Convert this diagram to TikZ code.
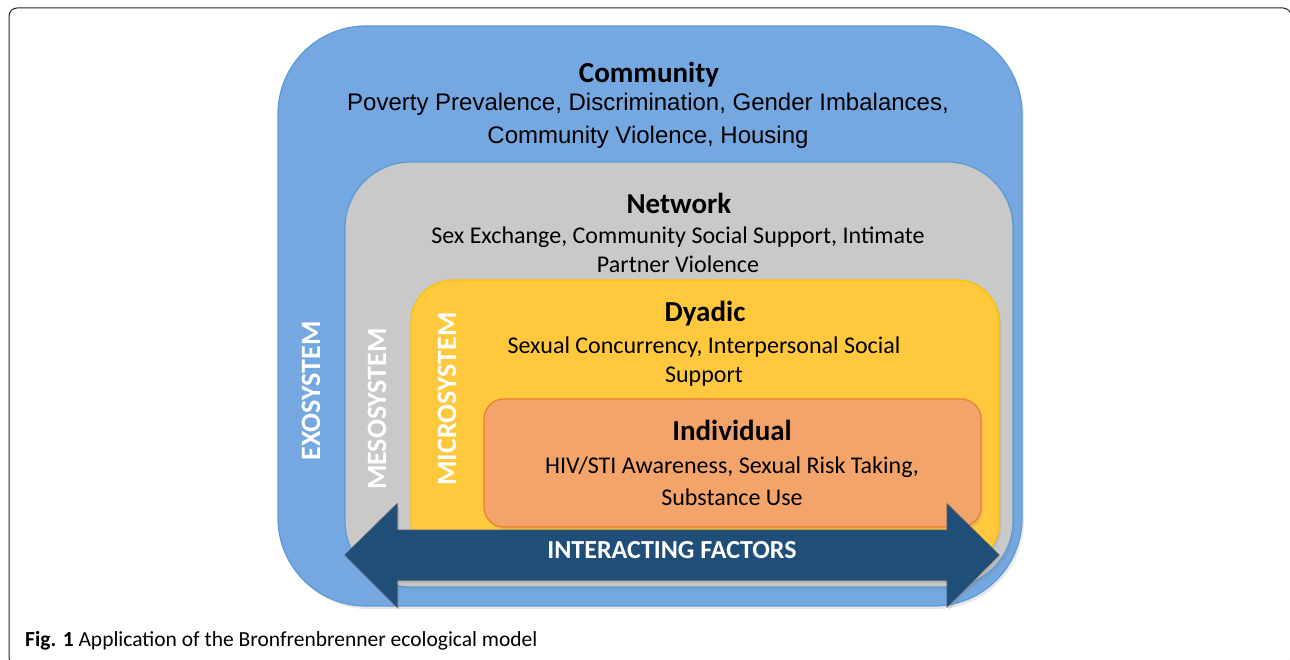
\documentclass[tikz,border=0pt]{standalone}
\usepackage{fontspec}
\setmainfont{Carlito}
\newfontfamily\arialfont{Liberation Sans}
\usetikzlibrary{shadows}

\definecolor{exoFill}{HTML}{75A8E1}
\definecolor{exoLine}{HTML}{5B9BD5}
\definecolor{mesoFill}{HTML}{C9C9C9}
\definecolor{microFill}{HTML}{FFC83D}
\definecolor{microLine}{HTML}{FFC000}
\definecolor{indivFill}{HTML}{F2A46A}
\definecolor{indivLine}{HTML}{ED7D31}
\definecolor{arrowFill}{HTML}{1F4E79}
\definecolor{arrowLine}{HTML}{44546A}

\tikzset{
  layerbox/.style={line width=1.2pt, drop shadow={shadow xshift=2pt, shadow yshift=-3pt, opacity=0.18}},
  title/.style={font=\fontsize{29}{33}\selectfont\bfseries, text=black},
  body/.style={font=\fontsize{24}{29}\selectfont, align=center, text=black},
  sysname/.style={font=\fontsize{28}{32}\selectfont\bfseries, text=white, rotate=90}
}

\begin{document}
\begin{tikzpicture}[x=1pt, y=-1pt]

\useasboundingbox (0,0) rectangle (1290,660);
\fill[white] (0,0) rectangle (1290,660);

\draw[rounded corners=8pt, line width=1pt, color=black!85] (9,8) rectangle (1291,665);

\draw[layerbox, fill=exoFill, draw=exoLine, rounded corners=88pt] (278,26) rectangle (1022,606);
\draw[layerbox, fill=mesoFill, draw=exoLine, rounded corners=66pt] (345,162) rectangle (1013,587);
\draw[layerbox, fill=microFill, draw=microLine, rounded corners=42pt] (411,280) rectangle (999,565);
\draw[layerbox, fill=indivFill, draw=indivLine, rounded corners=20pt] (484,399) rectangle (981,527);

\coordinate (LT) at (345,555);
\coordinate (LA) at (397,504);
\coordinate (LB) at (397,530);
\coordinate (LC) at (397,580);
\coordinate (LD) at (397,607);
\coordinate (RT) at (999,555);
\coordinate (RA) at (947,504);
\coordinate (RB) at (947,530);
\coordinate (RC) at (947,580);
\coordinate (RD) at (947,607);

\draw[fill=arrowFill, draw=arrowLine, line width=1pt, drop shadow={shadow xshift=2pt, shadow yshift=-3pt, opacity=0.25}]
  (LT) -- (LA) -- (LB) -- (RB) -- (RA) -- (RT) -- (RD) -- (RC) -- (LC) -- (LD) -- cycle;

\node[title] (comT) at (649,75) {Community};
\node[body, font=\arialfont\fontsize{24}{33}\selectfont] (comB) at (648,121)
  {Poverty Prevalence, Discrimination, Gender Imbalances,\\Community Violence, Housing};

\node[title] (netT) at (679,203) {Network};
\node[body] (netB) at (678,250) {Sex Exchange, Community Social Support, Intimate\\Partner Violence};

\node[title] (dyaT) at (705,314) {Dyadic};
\node[body] (dyaB) at (704,362) {Sexual Concurrency, Interpersonal Social\\Support};

\node[title] (indT) at (732,430) {Individual};
\node[body, font=\fontsize{24}{32}\selectfont] (indB) at (732,481) {HIV/STI Awareness, Sexual Risk Taking,\\Substance Use};

\node[sysname] (exoS) at (311,391) {EXOSYSTEM};
\node[sysname] (mesoS) at (377,409) {MESOSYSTEM};
\node[sysname] (microS) at (447,399) {MICROSYSTEM};

\node[font=\fontsize{26}{30}\selectfont\bfseries, text=white] (intF) at (672,550) {INTERACTING FACTORS};

\node[anchor=west, font=\fontsize{21.5}{25}\selectfont, inner sep=0pt] (cap) at (25,641)
  {\textbf{Fig. 1} Application of the Bronfrenbrenner ecological model};

\end{tikzpicture}
\end{document}
